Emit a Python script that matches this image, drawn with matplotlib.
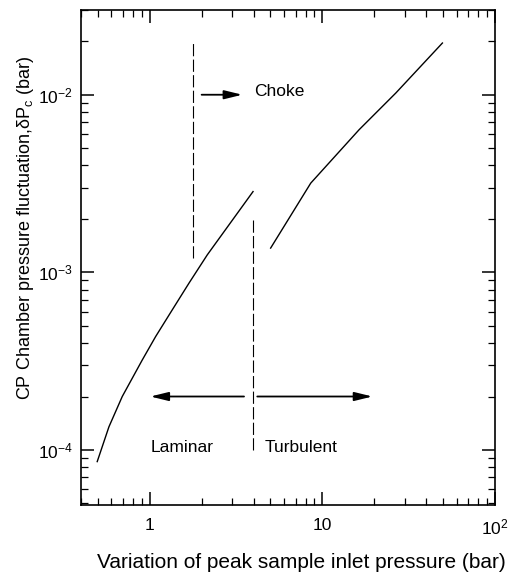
import numpy as np
import matplotlib.pyplot as plt
from matplotlib.ticker import LogLocator, FixedLocator, FixedFormatter, NullFormatter

plt.rcParams["font.family"] = ["Liberation Sans", "DejaVu Sans"]
plt.rcParams["mathtext.fontset"] = "custom"
plt.rcParams["mathtext.rm"] = "Liberation Sans"
plt.rcParams["mathtext.it"] = "Liberation Sans:italic"

# Laminar branch (left curve)
lam_p = [0.497, 0.581, 0.694, 0.906, 1.083, 1.352, 1.689, 2.157, 3.97]
lam_dp = [8.6e-5, 1.35e-4, 2.0e-4, 3.21e-4, 4.35e-4, 6.15e-4, 8.69e-4, 1.255e-3, 2.85e-3]

# Turbulent branch (right curve)
turb_p = [5.02, 8.57, 16.32, 26.63, 49.6]
turb_dp = [1.37e-3, 3.18e-3, 6.35e-3, 1.022e-2, 1.955e-2]

# Regime boundaries
choke_p = 1.79
choke_span = [1.2e-3, 2.0e-2]
transition_p = 3.98
transition_span = [1.0e-4, 2.02e-3]

x_ticks = [1, 10, 100]
x_labels = ["1", "10", r"$10^2$"]
y_ticks = [1e-4, 1e-3, 1e-2]
y_labels = [r"$10^{-4}$", r"$10^{-3}$", r"$10^{-2}$"]

fig = plt.figure(figsize=(5.09, 5.74), dpi=100)
ax = fig.add_axes([0.159, 0.1202, 0.8135, 0.8624])

ax.plot(lam_p, lam_dp, color="black", lw=1.0)
ax.plot(turb_p, turb_dp, color="black", lw=1.0)

ax.plot([choke_p, choke_p], choke_span, color="black", lw=0.8, dashes=(11, 3))
ax.plot([transition_p, transition_p], transition_span, color="black", lw=0.8, dashes=(11, 3))

arrow = dict(arrowstyle="-|>,head_length=0.9,head_width=0.22", color="black",
             lw=1.3, shrinkA=0, shrinkB=0, mutation_scale=12)
ax.annotate("", xy=(3.44, 1e-2), xytext=(2.0, 1e-2), arrowprops=arrow)
ax.annotate("", xy=(1.01, 2e-4), xytext=(3.52, 2e-4), arrowprops=arrow)
ax.annotate("", xy=(19.5, 2e-4), xytext=(4.2, 2e-4), arrowprops=arrow)

ax.text(4.02, 9.8e-3, "Choke", fontsize=12.5, va="baseline", ha="left")
ax.text(1.01, 9.78e-5, "Laminar", fontsize=12.5, va="baseline", ha="left")
ax.text(4.66, 9.78e-5, "Turbulent", fontsize=12.5, va="baseline", ha="left")

ax.set_xscale("log")
ax.set_yscale("log")
ax.set_xlim(0.4, 100)
ax.set_ylim(4.9e-5, 3.0e-2)

ax.xaxis.set_major_locator(FixedLocator(x_ticks))
ax.xaxis.set_major_formatter(FixedFormatter(x_labels))
ax.yaxis.set_major_locator(FixedLocator(y_ticks))
ax.yaxis.set_major_formatter(FixedFormatter(y_labels))
ax.xaxis.set_minor_locator(LogLocator(base=10, subs=np.arange(2, 10), numticks=20))
ax.yaxis.set_minor_locator(LogLocator(base=10, subs=np.arange(2, 10), numticks=20))
ax.xaxis.set_minor_formatter(NullFormatter())
ax.yaxis.set_minor_formatter(NullFormatter())

ax.tick_params(which="both", direction="in", top=True, right=True, labelsize=12.5)
ax.tick_params(which="major", length=9.5, width=1.1)
ax.tick_params(which="minor", length=5, width=0.9)
ax.tick_params(axis="x", pad=9)
ax.tick_params(axis="y", pad=6)
for s in ax.spines.values():
    s.set_linewidth(1.2)

ax.set_xlabel("Variation of peak sample inlet pressure (bar)", fontsize=15)
ax.set_ylabel(r"CP Chamber pressure fluctuation,δP$_{\rm c}$ (bar)", fontsize=13)
ax.xaxis.set_label_coords(0.533, -0.097)
ax.yaxis.set_label_coords(-0.109, 0.56)

fig.savefig("out.png", dpi=100)
